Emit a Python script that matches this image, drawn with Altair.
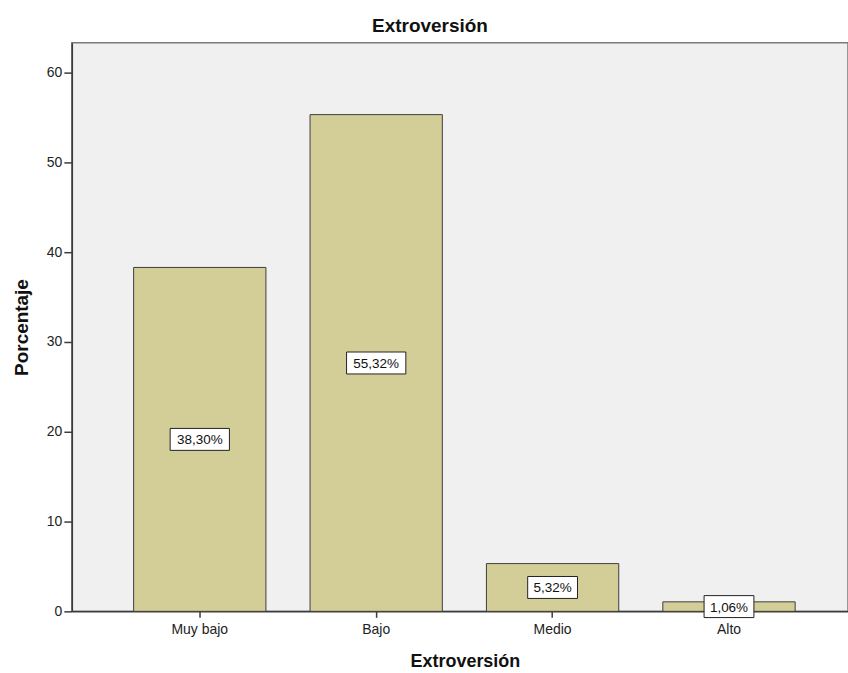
import altair as alt
import pandas as pd

categories = ["Muy bajo", "Bajo", "Medio", "Alto"]
values = [38.30, 55.32, 5.32, 1.06]
labels = [f"{v:.2f}".replace(".", ",") + "%" for v in values]
y_ticks = [0, 10, 20, 30, 40, 50, 60]

df = pd.DataFrame({
    "cat": categories,
    "val": values,
    "label": labels,
    "wide": ["w" if len(l) > 5 else "n" for l in labels],
})
df["mid"] = df["val"] / 2

FONT = "Liberation Sans"

x = alt.X("cat:N", sort=categories,
          scale=alt.Scale(paddingInner=0.25, paddingOuter=0.325, align=0.539),
          axis=alt.Axis(title="Extroversión", labelAngle=0, labelPadding=5,
                        tickSize=6, titleX=394, titleY=50, titleFontSize=18,
                        titleBaseline="middle", titleAlign="center"))
y = alt.Y("val:Q", scale=alt.Scale(domain=[0, 63.33], nice=False, zero=True),
          axis=alt.Axis(title="Porcentaje", values=y_ticks, grid=False, tickSize=8,
                        labelPadding=2, titleX=-50, titleY=285,
                        titleBaseline="middle", titleAlign="center"))

bars = alt.Chart(df).mark_bar(fill="#d3ce98", stroke="#3e3e3e", strokeWidth=1).encode(
    x=x, y=y
)

wide_path = "M-2.7,-1L2.7,-1L2.7,1L-2.7,1Z"
narrow_path = "M-2.27,-1L2.27,-1L2.27,1L-2.27,1Z"

boxes = alt.Chart(df).mark_point(filled=True, fill="white", stroke="#222222",
                                 strokeWidth=1, opacity=1, size=484).encode(
    x=alt.X("cat:N", sort=categories),
    y=alt.Y("mid:Q"),
    shape=alt.Shape("wide:N", scale=alt.Scale(domain=["w", "n"],
                                              range=[wide_path, narrow_path]),
                    legend=None),
)

texts = alt.Chart(df).mark_text(font=FONT, fontSize=13.5, color="#111111",
                                baseline="middle", dy=1).encode(
    x=alt.X("cat:N", sort=categories),
    y=alt.Y("mid:Q"),
    text="label:N",
)

chart = alt.layer(bars, boxes, texts).properties(
    width=778,
    height=570,
    background="white",
    title=alt.TitleParams("Extroversión", font=FONT, fontSize=19, fontWeight="bold",
                          anchor="middle", dx=-30, dy=16, offset=8, color="#111111",
                          baseline="alphabetic"),
    padding={"left": 72, "top": 42, "right": 0, "bottom": 61},
    autosize=alt.AutoSizeParams(type="none"),
).configure_view(
    fill="#f0f0f0", stroke="#7a7a7a", strokeWidth=1.5
).configure_axis(
    labelFont=FONT, labelFontSize=14, labelColor="#222222",
    titleFont=FONT, titleFontSize=19, titleFontWeight="bold", titleColor="#111111",
    domainColor="#3c3c3c", tickColor="#3c3c3c", domainWidth=1.5, tickWidth=1.5,
)

chart.save("out.html", embed_options={"renderer": "svg", "actions": False})
